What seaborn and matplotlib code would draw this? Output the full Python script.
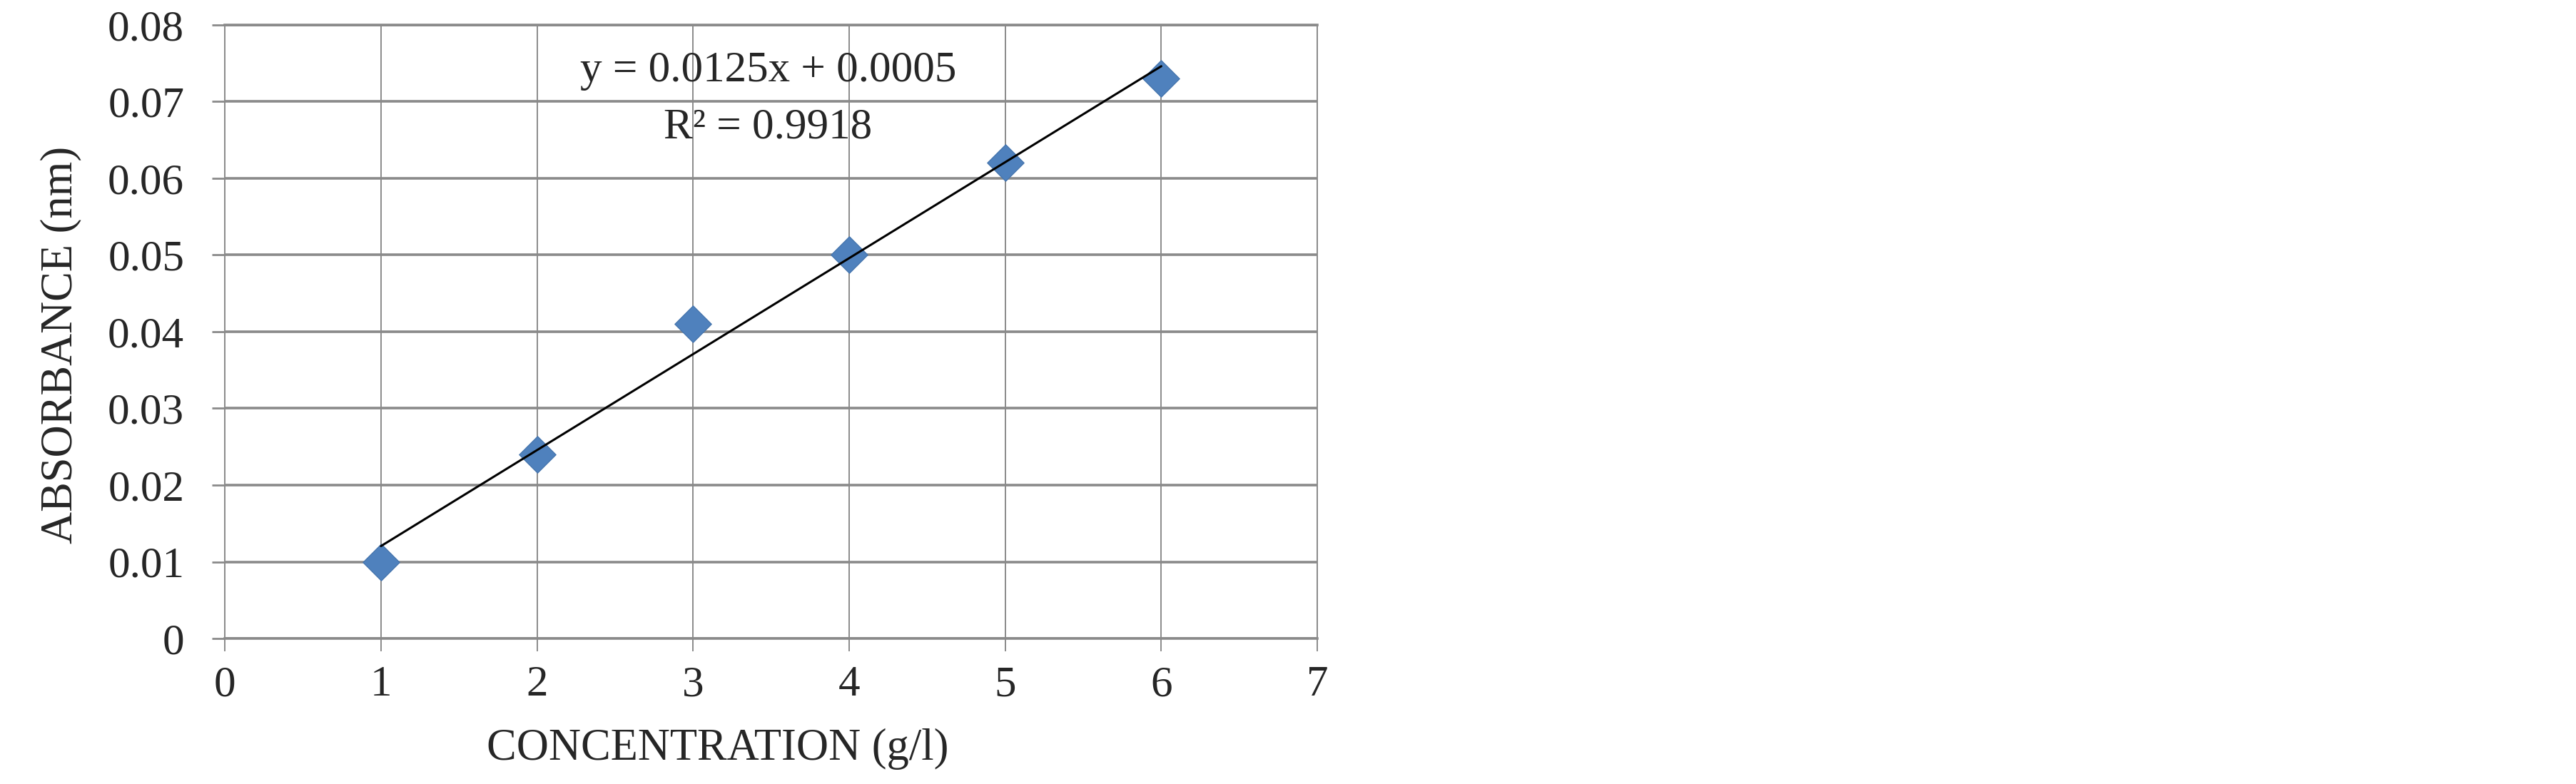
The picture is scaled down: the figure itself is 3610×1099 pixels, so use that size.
import pandas as pd
import seaborn as sns
import matplotlib.pyplot as plt

# Calibration points
concentration = [1, 2, 3, 4, 5, 6]
absorbance = [0.010, 0.024, 0.041, 0.050, 0.062, 0.073]

x_ticks = [0, 1, 2, 3, 4, 5, 6, 7]
y_ticks = [0, 0.01, 0.02, 0.03, 0.04, 0.05, 0.06, 0.07, 0.08]
y_tick_labels = ["0", "0.01", "0.02", "0.03", "0.04", "0.05", "0.06", "0.07", "0.08"]

equation_text = "y = 0.0125x + 0.0005"
r2_text = "R\u00b2 = 0.9918"


def main():
    df = pd.DataFrame({"conc": concentration, "abs": absorbance})

    sns.set_style("white")
    plt.rcParams["font.family"] = ["Liberation Serif", "DejaVu Serif"]

    fig = plt.figure(figsize=(36.1, 10.99), dpi=100)
    ax = fig.add_axes([0.0873, 0.1856, 0.4241, 0.7826])

    grid_color = "#8a8a8a"

    # scatter + least squares line
    sns.regplot(x="conc", y="abs", data=df, ax=ax, ci=None, marker="D",
                scatter_kws=dict(s=680, color="#4F81BD", edgecolor="#4675AE",
                                 linewidths=1, alpha=1),
                line_kws=dict(color="black", lw=2.2))

    ax.set_xlim(0, 7)
    ax.set_ylim(0, 0.08)
    ax.set_xticks(x_ticks)
    ax.set_yticks(y_ticks)
    ax.set_yticklabels(y_tick_labels)

    ax.set_axisbelow(True)
    ax.yaxis.grid(True, color=grid_color, lw=2.6)
    ax.xaxis.grid(True, color=grid_color, lw=1.4)
    for side in ["left", "right"]:
        ax.spines[side].set_color(grid_color)
        ax.spines[side].set_linewidth(1.4)
    for side in ["top", "bottom"]:
        ax.spines[side].set_color(grid_color)
        ax.spines[side].set_linewidth(2.6)

    ax.tick_params(axis="x", direction="out", length=13, width=1.4, color=grid_color,
                   pad=14, labelsize=44, bottom=True)
    ax.tick_params(axis="y", direction="out", length=13, width=2.0, color=grid_color,
                   pad=28, labelsize=44, left=True)

    ax.set_xlabel("CONCENTRATION (g/l)", fontsize=45)
    ax.set_ylabel("ABSORBANCE (nm)", fontsize=45)
    ax.xaxis.set_label_coords(0.451, -0.180)
    ax.xaxis.label.set_va("center")
    ax.yaxis.set_label_coords(-0.150, 0.479)
    ax.yaxis.label.set_va("center")

    # trendline annotation
    ax.text(3.48, 0.0740, equation_text, ha="center", va="center", fontsize=44)
    ax.text(3.48, 0.0666, r2_text, ha="center", va="center", fontsize=44)

    fig.savefig("out.png", dpi=100, facecolor="white")
    print("done")


if __name__ == "__main__":
    main()
